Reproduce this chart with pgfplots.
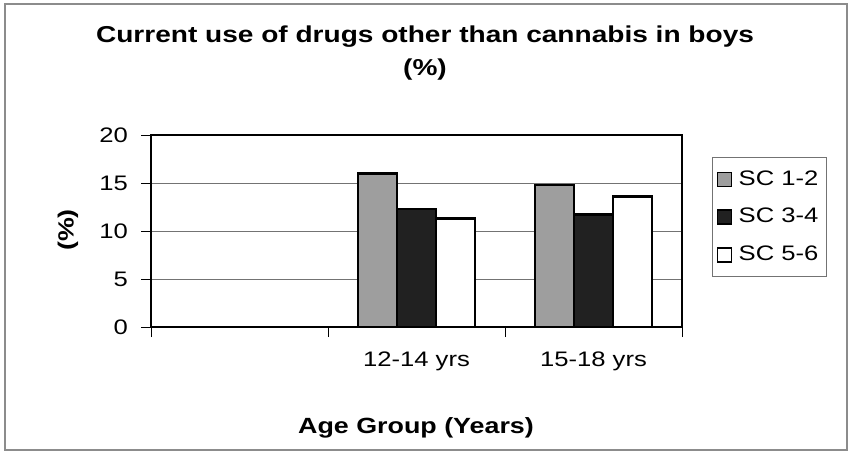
\documentclass[border=0pt]{standalone}
\usepackage{fontspec}
\setmainfont{Liberation Sans}[FakeStretch=1.22]
\usepackage{pgfplots}
\pgfplotsset{compat=1.18}
\definecolor{barA}{gray}{0.62}
\definecolor{barB}{gray}{0.13}
\begin{document}
\begin{tikzpicture}
\useasboundingbox (-75.5pt,-64pt) rectangle (349.5pt,163.5pt);
\draw[black!45, line width=0.6pt] (-73pt,-61.5pt) rectangle (348pt,161.5pt);
\begin{axis}[
  at={(0,0)}, anchor=south west,
  scale only axis, width=265.5pt, height=96pt,
  ybar=0pt, bar width=19.5pt,
  xmin=-0.5, xmax=2.5, ymin=0, ymax=20,
  axis line style={black, line width=1pt},
  xtick pos=bottom, ytick pos=left,
  xtick={-0.5,0.5,1.5,2.5}, xticklabels={},
  xtick style={black, line width=0.5pt},
  extra x ticks={1,2},
  extra x tick labels={12-14 yrs,15-18 yrs},
  extra x tick style={major tick length=0pt, grid=none, xticklabel style={yshift=-9pt}},
  ytick={0,5,10,15,20},
  ytick style={black, line width=0.5pt},
  yticklabel style={xshift=-3pt},
  tick align=outside, major tick length=5pt,
  ymajorgrids, grid style={black!55, line width=0.5pt},
  tick label style={font=\fontsize{10.5}{12}\selectfont},
  /pgf/number format/assume math mode=true,
  legend style={at={(1.0565,0.885)}, anchor=north west, draw=black!55, line width=0.5pt,
    font=\fontsize{10.5}{12}\selectfont, row sep=6pt, inner xsep=2pt, inner ysep=4.5pt},
  legend cell align=left,
  legend image code/.code={\draw[#1, line width=0.9pt] (4pt,-3.5pt) rectangle (11pt,3.5pt);\path (12pt,0pt);},
]
\addplot[fill=barA, draw=black, line width=1.3pt] coordinates {(1,16.0) (2,14.8)};
\addplot[fill=barB, draw=black, line width=1.3pt] coordinates {(1,12.3) (2,11.7)};
\addplot[fill=white, draw=black, line width=1.3pt] coordinates {(1,11.3) (2,13.6)};
\legend{SC 1-2,SC 3-4,SC 5-6}
\end{axis}
\node[font=\fontsize{11.5}{13}\selectfont\bfseries] at (137pt,145pt) {Current use of drugs other than cannabis in boys};
\node[font=\fontsize{11.5}{13}\selectfont\bfseries] at (137pt,128.5pt) {(\%)};
\node[font=\fontsize{11}{13}\selectfont\bfseries, rotate=90] at (-41.5pt,48.5pt) {(\%)};
\node[font=\fontsize{11}{13}\selectfont\bfseries] at (132.5pt,-50.5pt) {Age Group (Years)};
\end{tikzpicture}
\end{document}
